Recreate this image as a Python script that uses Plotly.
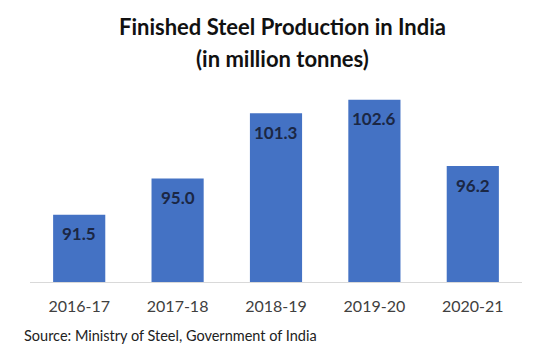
import plotly.graph_objects as go

years = ["2016-17", "2017-18", "2018-19", "2019-20", "2020-21"]
production = [91.5, 95.0, 101.3, 102.6, 96.2]
labels = ["91.5", "95.0", "101.3", "102.6", "96.2"]

W, H = 554, 354
ml, mr, mt, mb = 30, 32, 75, 72
pw, ph = W - ml - mr, H - mt - mb

def px_x(x):
    return (x - ml) / pw

def px_y(y):
    return (H - mb - y) / ph

fig = go.Figure()
fig.add_trace(go.Bar(
    x=years, y=production,
    marker=dict(color="#4472C4", line=dict(width=0)),
    hoverinfo="skip",
))

for yr, v, t in zip(years, production, labels):
    fig.add_annotation(x=yr, y=v, xref="x", yref="y", text=f"<b>{t}</b>",
                       showarrow=False, yanchor="middle", yshift=-19,
                       font=dict(family="Lato", size=17, color="#1b2744"))

fig.add_annotation(xref="paper", yref="paper", x=px_x(282), y=px_y(26),
                   text="<b>Finished Steel Production in India</b>", showarrow=False,
                   xanchor="center", yanchor="middle",
                   font=dict(family="Lato", size=22, color="#111111"))
fig.add_annotation(xref="paper", yref="paper", x=px_x(282), y=px_y(58),
                   text="<b>(in million tonnes)</b>", showarrow=False,
                   xanchor="center", yanchor="middle",
                   font=dict(family="Lato", size=22, color="#111111"))
fig.add_annotation(xref="paper", yref="paper", x=px_x(22), y=px_y(335),
                   text="Source: Ministry of Steel, Government of India", showarrow=False,
                   xanchor="left", yanchor="middle",
                   font=dict(family="Lato", size=14.5, color="#222222"))

fig.update_layout(
    width=W, height=H,
    margin=dict(l=ml, r=mr, t=mt, b=mb),
    paper_bgcolor="white", plot_bgcolor="white",
    bargap=0.47,
    showlegend=False,
    xaxis=dict(showline=True, linecolor="#d9d9d9", linewidth=1,
               ticks="outside", ticklen=10, tickcolor="rgba(0,0,0,0)",
               tickfont=dict(family="Lato", size=16, color="#404040"),
               showgrid=False, fixedrange=True),
    yaxis=dict(range=[85, 105], visible=False, showgrid=False, fixedrange=True),
)

fig.write_html("out.html", config={"displayModeBar": False})
